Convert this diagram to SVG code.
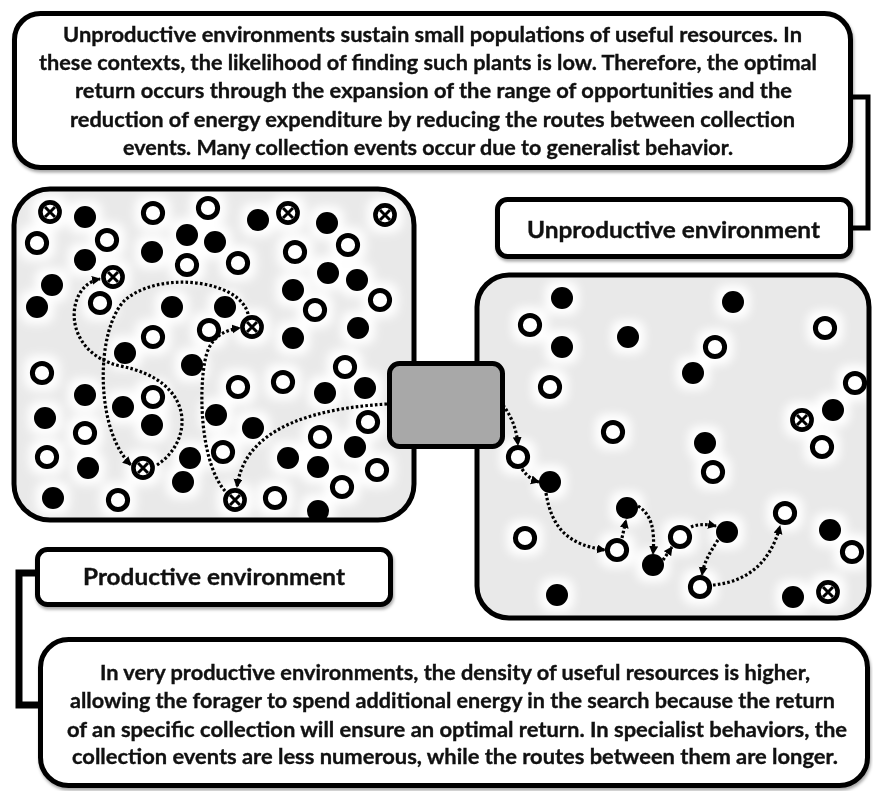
<svg xmlns="http://www.w3.org/2000/svg" xmlns:xlink="http://www.w3.org/1999/xlink" width="873" height="791" viewBox="0 0 873 791">
  <style>
    .box { fill: #fff; stroke: #000; stroke-width: 5; filter: url(#shadow); }
    .panel { fill: #e9e9e9; }
    .edge { fill: none; stroke: #000; stroke-width: 5; }
    .txt { font-family: Lato, "Open Sans", "Liberation Sans", sans-serif; font-weight: 700; font-size: 21px; fill: #111; stroke: #111; stroke-width: 0.35; }
    .lbl { font-family: Lato, "Open Sans", "Liberation Sans", sans-serif; font-weight: 700; font-size: 23px; fill: #111; stroke: #111; stroke-width: 0.35; }
    .bracket { fill: none; stroke: #000; stroke-linejoin: miter; }
    .route { fill: none; stroke: #000; stroke-width: 3.2; stroke-dasharray: 2.6 2.2; marker-end: url(#tip); }
  </style>
  <defs>
    <filter id="shadow" x="-10%" y="-10%" width="120%" height="130%">
      <feDropShadow dx="1" dy="2.5" stdDeviation="1.8" flood-color="#000" flood-opacity="0.35"/>
    </filter>
    <!-- soft white glow round every resource -->
    <filter id="halo" filterUnits="userSpaceOnUse" x="0" y="0" width="873" height="791">
      <feMorphology in="SourceAlpha" operator="dilate" radius="6" result="grow"/>
      <feGaussianBlur in="grow" stdDeviation="5" result="soft"/>
      <feFlood flood-color="#fff"/>
      <feComposite in2="soft" operator="in"/>
    </filter>
    <clipPath id="clipL"><rect x="16" y="191" width="396" height="327" rx="34"/></clipPath>
    <clipPath id="clipR"><rect x="479" y="277" width="388" height="339" rx="30"/></clipPath>
    <marker id="tip" markerUnits="userSpaceOnUse" markerWidth="10" markerHeight="10" refX="8" refY="4.5" orient="auto">
      <path d="M0,0 L9,4.5 L0,9 z" fill="#000"/>
    </marker>
    <!-- resource symbols -->
    <circle id="f" r="11" fill="#000"/>
    <circle id="o" r="9.6" fill="#fff" stroke="#000" stroke-width="5"/>
    <g id="x">
      <circle r="9.6" fill="#fff" stroke="#000" stroke-width="4.6"/>
      <path d="M-5,-5 L5,5 M5,-5 L-5,5" stroke="#000" stroke-width="3"/>
    </g>
    <g id="dotsL">
      <use href="#f" x="85" y="217"/><use href="#f" x="187" y="235"/><use href="#f" x="215" y="242"/>
      <use href="#f" x="258" y="220"/><use href="#f" x="327" y="223"/><use href="#f" x="85" y="260"/>
      <use href="#f" x="152" y="252"/><use href="#f" x="328" y="273"/><use href="#f" x="357" y="280"/>
      <use href="#f" x="52" y="285"/><use href="#f" x="293" y="290"/><use href="#f" x="37" y="307"/>
      <use href="#f" x="172" y="307"/><use href="#f" x="225" y="307"/><use href="#f" x="358" y="328"/>
      <use href="#f" x="293" y="338"/><use href="#f" x="125" y="353"/><use href="#f" x="192" y="365"/>
      <use href="#f" x="365" y="388"/><use href="#f" x="325" y="393"/><use href="#f" x="85" y="395"/>
      <use href="#f" x="123" y="407"/><use href="#f" x="45" y="418"/><use href="#f" x="152" y="425"/>
      <use href="#f" x="216" y="415"/><use href="#f" x="253" y="428"/><use href="#f" x="355" y="447"/>
      <use href="#f" x="190" y="458"/><use href="#f" x="288" y="458"/><use href="#f" x="88" y="468"/>
      <use href="#f" x="318" y="467"/><use href="#f" x="183" y="482"/><use href="#f" x="53" y="498"/>
      <use href="#f" x="318" y="511"/>
      <use href="#o" x="153" y="213"/><use href="#o" x="208" y="208"/><use href="#o" x="37" y="243"/>
      <use href="#o" x="107" y="240"/><use href="#o" x="295" y="252"/><use href="#o" x="348" y="245"/>
      <use href="#o" x="187" y="265"/><use href="#o" x="238" y="263"/><use href="#o" x="100" y="303"/>
      <use href="#o" x="380" y="300"/><use href="#o" x="315" y="310"/><use href="#o" x="209" y="330"/>
      <use href="#o" x="153" y="337"/><use href="#o" x="42" y="373"/><use href="#o" x="345" y="367"/>
      <use href="#o" x="283" y="382"/><use href="#o" x="238" y="387"/><use href="#o" x="153" y="397"/>
      <use href="#o" x="85" y="433"/><use href="#o" x="368" y="422"/><use href="#o" x="320" y="437"/>
      <use href="#o" x="223" y="452"/><use href="#o" x="47" y="457"/><use href="#o" x="377" y="470"/>
      <use href="#o" x="342" y="487"/><use href="#o" x="118" y="500"/><use href="#o" x="275" y="498"/>
      <use href="#x" x="50" y="212"/><use href="#x" x="288" y="213"/><use href="#x" x="385" y="215"/>
      <use href="#x" x="113" y="277"/><use href="#x" x="252" y="327"/><use href="#x" x="143" y="468"/>
      <use href="#x" x="235" y="500"/>
    </g>
    <g id="dotsR">
      <use href="#f" x="562" y="298"/><use href="#f" x="733" y="302"/><use href="#f" x="628" y="337"/>
      <use href="#f" x="562" y="347"/><use href="#f" x="693" y="373"/><use href="#f" x="833" y="410"/>
      <use href="#f" x="705" y="443"/><use href="#f" x="550" y="482"/><use href="#f" x="627" y="508"/>
      <use href="#f" x="727" y="532"/><use href="#f" x="830" y="530"/><use href="#f" x="653" y="565"/>
      <use href="#f" x="557" y="595"/><use href="#f" x="793" y="597"/>
      <use href="#o" x="530" y="325"/><use href="#o" x="825" y="328"/><use href="#o" x="715" y="347"/>
      <use href="#o" x="855" y="383"/><use href="#o" x="550" y="387"/><use href="#o" x="613" y="432"/>
      <use href="#o" x="822" y="447"/><use href="#o" x="713" y="472"/><use href="#o" x="518" y="457"/>
      <use href="#o" x="785" y="513"/><use href="#o" x="525" y="538"/><use href="#o" x="680" y="537"/>
      <use href="#o" x="617" y="550"/><use href="#o" x="852" y="552"/><use href="#o" x="700" y="587"/>
      <use href="#x" x="802" y="420"/><use href="#x" x="828" y="592"/>
    </g>
  </defs>

  <rect width="873" height="791" fill="#fff"/>

  <!-- productive field (left) -->
  <g id="productive-field">
    <rect class="panel" x="14" y="189" width="400" height="331" rx="36"/>
    <use href="#dotsL" filter="url(#halo)" clip-path="url(#clipL)"/>
    <rect class="edge" x="14" y="189" width="400" height="331" rx="36"/>
  </g>

  <!-- unproductive field (right) -->
  <g id="unproductive-field">
    <rect class="panel" x="477" y="275" width="392" height="343" rx="32"/>
    <use href="#dotsR" filter="url(#halo)" clip-path="url(#clipR)"/>
    <rect class="edge" x="477" y="275" width="392" height="343" rx="32"/>
  </g>

  <!-- connectors: brackets and foraging routes -->
  <g id="connectors">
    <path class="bracket" stroke-width="5" d="M850,97 H868 V228 H852"/>
    <path class="bracket" stroke-width="7" d="M38,573 H19 V705 H42"/>

    <path class="route" d="M157,465 C195,440 195,380 120,366 C60,352 65,285 100,279"/>
    <path class="route" d="M248,314 C240,280 160,270 125,300 C95,330 95,430 131,465"/>
    <path class="route" d="M225,491 C198,460 198,375 208,350 C214,336 225,330 240,328"/>
    <path class="route" d="M387,404 C320,408 245,425 237,487"/>

    <path class="route" d="M503,405 C510,415 516,425 518,445"/>
    <path class="route" d="M522,469 C527,476 532,480 539,482"/>
    <path class="route" d="M546,493 C552,530 570,545 605,550"/>
    <path class="route" d="M622,538 L626,520"/>
    <path class="route" d="M638,506 C652,515 655,530 653,554"/>
    <path class="route" d="M663,560 L672,547"/>
    <path class="route" d="M691,527 C698,524 706,524 716,526"/>
    <path class="route" d="M718,540 C710,552 704,562 702,575"/>
    <path class="route" d="M713,585 C745,582 770,565 780,526"/>
  </g>

  <g id="resources-left"><use href="#dotsL"/></g>
  <g id="resources-right"><use href="#dotsR"/></g>

  <!-- forager -->
  <g id="forager">
    <rect x="389.5" y="363.5" width="113" height="83" rx="10" fill="#a8a8a8" stroke="#000" stroke-width="5"/>
  </g>

  <g id="note-unproductive">
    <rect class="box" x="14.5" y="13.5" width="836" height="154" rx="26"/>
    <text class="txt" x="63" y="42" textLength="739" lengthAdjust="spacingAndGlyphs">Unproductive environments sustain small populations of useful resources. In</text>
    <text class="txt" x="39" y="70" textLength="778" lengthAdjust="spacingAndGlyphs">these contexts, the likelihood of finding such plants is low. Therefore, the optimal</text>
    <text class="txt" x="75" y="98" textLength="717" lengthAdjust="spacingAndGlyphs">return occurs through the expansion of the range of opportunities and the</text>
    <text class="txt" x="70" y="127" textLength="725" lengthAdjust="spacingAndGlyphs">reduction of energy expenditure by reducing the routes between collection</text>
    <text class="txt" x="123" y="155" textLength="610" lengthAdjust="spacingAndGlyphs">events. Many collection events occur due to generalist behavior.</text>
  </g>

  <g id="label-unproductive">
    <rect class="box" x="497.5" y="199.5" width="353" height="57" rx="10"/>
    <text class="lbl" x="527" y="238" textLength="293" lengthAdjust="spacingAndGlyphs">Unproductive environment</text>
  </g>

  <g id="label-productive">
    <rect class="box" x="37.5" y="549.5" width="353" height="55" rx="10"/>
    <text class="lbl" x="83" y="585" textLength="262" lengthAdjust="spacingAndGlyphs">Productive environment</text>
  </g>

  <g id="note-productive">
    <rect class="box" x="40.5" y="639.5" width="827" height="146" rx="28"/>
    <text class="txt" x="100" y="680" textLength="710" lengthAdjust="spacingAndGlyphs">In very productive environments, the density of useful resources is higher,</text>
    <text class="txt" x="70" y="708" textLength="765" lengthAdjust="spacingAndGlyphs">allowing the forager to spend additional energy in the search because the return</text>
    <text class="txt" x="67" y="737" textLength="780" lengthAdjust="spacingAndGlyphs">of an specific collection will ensure an optimal return. In specialist behaviors, the</text>
    <text class="txt" x="72" y="764" textLength="766" lengthAdjust="spacingAndGlyphs">collection events are less numerous, while the routes between them are longer.</text>
  </g>
</svg>
